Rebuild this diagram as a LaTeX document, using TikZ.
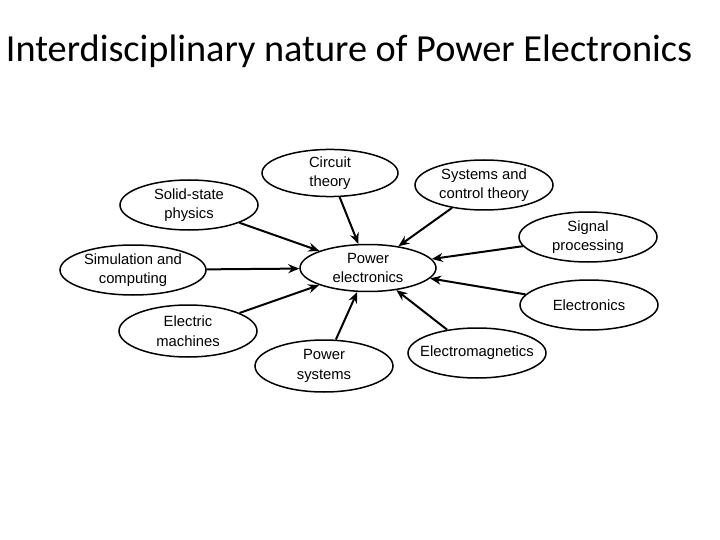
\documentclass[tikz,border=0pt]{standalone}
\usepackage{fontspec}
\setmainfont{Liberation Sans}
\newfontfamily\titlefont{Carlito}
\usetikzlibrary{arrows.meta,shapes.geometric}

\begin{document}
\begin{tikzpicture}[x=1pt, y=-1pt,
  topic/.style={draw, ellipse, line width=1.5pt, minimum width=138pt, minimum height=50pt,
    inner sep=0pt, align=center, font=\fontsize{14.8}{19.5}\selectfont},
  feed/.style={-{Stealth[length=11pt,width=9pt]}, line width=2pt}
]
\useasboundingbox (0,0) rectangle (720,540);
% title
\node[font=\titlefont\fontsize{38.3}{42}\selectfont, anchor=base] (title) at (349,62)
  {Interdisciplinary nature of Power Electronics};
% hub
\node[topic, minimum width=136pt, minimum height=47pt] (pe) at (368,268) {Power\\electronics};
% surrounding fields
\node[topic, minimum width=136pt, minimum height=47pt] (ct) at (330,173) {Circuit\\theory};
\node[topic] (ssp) at (189,205) {Solid-state\\physics};
\node[topic] (sct) at (484,185) {Systems and\\control theory};
\node[topic] (sp) at (588,237) {Signal\\processing};
\node[topic, minimum width=146pt] (sim) at (133,270) {Simulation and\\computing};
\node[topic] (el) at (589,305) {Electronics};
\node[topic, minimum height=52pt] (em) at (188,331) {Electric\\machines};
\node[topic, minimum height=52pt] (ps) at (324,366) {Power\\systems};
\node[topic] (emag) at (477,353) {\makebox[0pt]{Electromagnetics}\rule{0pt}{11pt}};
% arrows into the hub
\foreach \n in {ct,ssp,sct,sp,sim,el,em,ps,emag}{
  \draw[feed] (\n) -- (pe);
}
\end{tikzpicture}
\end{document}
